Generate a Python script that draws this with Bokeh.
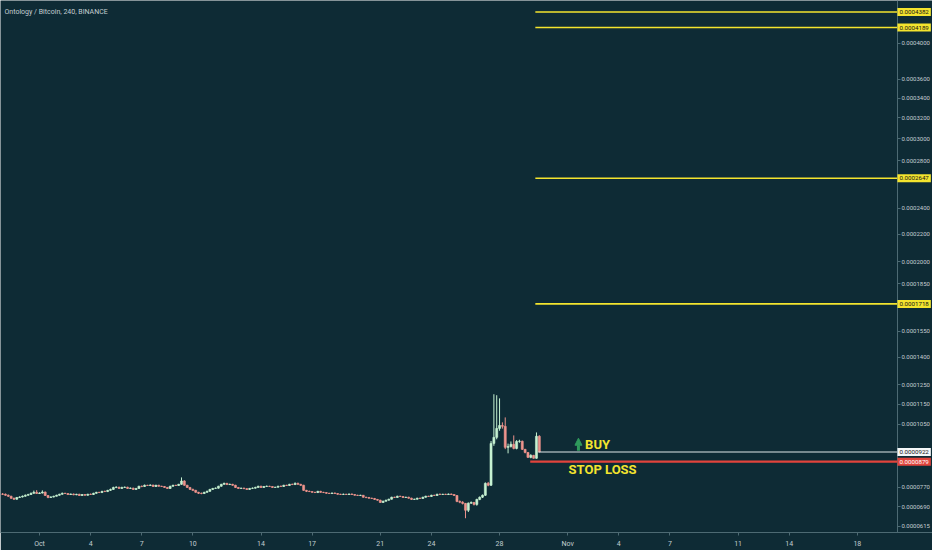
import numpy as np
import pandas as pd
from bokeh.plotting import figure
from bokeh.models import (Range1d, FixedTicker, CustomJSTickFormatter, Label,
                          ColumnDataSource, Arrow, NormalHead)
from bokeh.embed import file_html
from bokeh.resources import INLINE

# ---------------- data (prices in satoshi, 1e-8 BTC) ----------------
first_candle = "2019-09-28 20:00"   # 4h candles
first_open_sat = 7420
close_sat = [
    7410, 7370, 7330, 7250, 7210, 7280, 7300, 7330, 7370, 7400,
    7450, 7490, 7440, 7460, 7500, 7360, 7280, 7300, 7330, 7370,
    7410, 7450, 7440, 7400, 7420, 7390, 7410, 7360, 7400, 7370,
    7410, 7400, 7450, 7490, 7480, 7530, 7520, 7570, 7610, 7690,
    7700, 7650, 7690, 7700, 7650, 7660, 7610, 7650, 7740, 7730,
    7780, 7770, 7790, 7730, 7780, 7740, 7730, 7690, 7650, 7740,
    7780, 7770, 7820, 7960, 7780, 7690, 7610, 7570, 7490, 7450,
    7440, 7490, 7530, 7610, 7650, 7660, 7740, 7820, 7860, 7810,
    7820, 7780, 7690, 7650, 7660, 7640, 7610, 7650, 7660, 7690,
    7740, 7690, 7730, 7740, 7730, 7690, 7700, 7740, 7730, 7780,
    7770, 7820, 7810, 7860, 7820, 7780, 7570, 7530, 7520, 7490,
    7480, 7530, 7490, 7480, 7450, 7440, 7460, 7440, 7410, 7400,
    7410, 7400, 7420, 7400, 7370, 7360, 7370, 7290, 7280, 7250,
    7240, 7200, 7170, 7080, 7130, 7170, 7210, 7290, 7280, 7330,
    7320, 7280, 7290, 7250, 7200, 7210, 7250, 7240, 7290, 7330,
    7320, 7370, 7360, 7410, 7400, 7410, 7400, 7420, 7400, 7360,
    7120, 7090, 7040, 6770, 7050, 7080, 7000, 7200, 7290, 7370,
    7860, 7780, 9610, 9890, 10310, 10450, 10410, 9430, 9470, 9570,
    9380, 9700, 9710, 9340, 9200, 8980, 9070, 8940, 9940, 9220,
]
high_sat = [
    7460, 7440, 7400, 7350, 7270, 7300, 7330, 7360, 7400, 7430,
    7480, 7560, 7580, 7490, 7570, 7520, 7380, 7330, 7350, 7390,
    7430, 7480, 7470, 7460, 7440, 7440, 7430, 7430, 7420, 7410,
    7430, 7440, 7470, 7510, 7510, 7550, 7560, 7590, 7640, 7720,
    7740, 7720, 7720, 7730, 7720, 7690, 7680, 7670, 7760, 7770,
    7810, 7800, 7820, 7800, 7800, 7800, 7760, 7750, 7710, 7760,
    7800, 7800, 7840, 8110, 7990, 7800, 7710, 7640, 7590, 7510,
    7480, 7510, 7560, 7630, 7670, 7690, 7760, 7840, 7890, 7880,
    7850, 7840, 7800, 7710, 7680, 7680, 7660, 7670, 7690, 7720,
    7760, 7760, 7750, 7770, 7760, 7740, 7720, 7760, 7770, 7800,
    7800, 7840, 7850, 7900, 7890, 7840, 7800, 7590, 7560, 7540,
    7510, 7550, 7550, 7510, 7500, 7470, 7480, 7480, 7460, 7430,
    7440, 7430, 7440, 7440, 7420, 7390, 7390, 7380, 7310, 7300,
    7270, 7260, 7220, 7190, 7150, 7190, 7230, 7310, 7310, 7350,
    7350, 7340, 7310, 7310, 7270, 7230, 7270, 7270, 7310, 7350,
    7350, 7390, 7390, 7430, 7440, 7430, 7430, 7440, 7440, 7420,
    7380, 7160, 7130, 7060, 7080, 7120, 7100, 7230, 7320, 7400,
    7900, 7920, 9720, 12000, 11950, 11790, 10600, 10840, 9600, 9700,
    9980, 9760, 9780, 9740, 9360, 9220, 9120, 9090, 10120, 9990,
]
low_sat = [
    7380, 7350, 7300, 7220, 7180, 7190, 7260, 7280, 7310, 7350,
    7380, 7430, 7420, 7420, 7440, 7340, 7250, 7260, 7280, 7320,
    7350, 7390, 7420, 7380, 7380, 7370, 7370, 7340, 7340, 7350,
    7350, 7380, 7380, 7430, 7460, 7460, 7500, 7500, 7550, 7590,
    7660, 7630, 7630, 7670, 7630, 7630, 7590, 7590, 7630, 7700,
    7710, 7750, 7750, 7710, 7710, 7720, 7710, 7670, 7630, 7630,
    7720, 7750, 7750, 7800, 7760, 7670, 7590, 7540, 7470, 7420,
    7410, 7420, 7470, 7510, 7590, 7630, 7640, 7720, 7800, 7790,
    7790, 7760, 7670, 7630, 7630, 7620, 7590, 7590, 7630, 7640,
    7670, 7670, 7670, 7710, 7710, 7670, 7670, 7680, 7710, 7710,
    7750, 7750, 7790, 7790, 7800, 7750, 7550, 7500, 7500, 7470,
    7460, 7460, 7470, 7460, 7430, 7420, 7420, 7420, 7390, 7380,
    7380, 7380, 7380, 7380, 7350, 7340, 7340, 7270, 7250, 7230,
    7220, 7180, 7150, 7060, 7060, 7110, 7150, 7190, 7260, 7260,
    7300, 7260, 7260, 7230, 7180, 7180, 7190, 7220, 7220, 7270,
    7300, 7300, 7340, 7340, 7380, 7380, 7380, 7380, 7380, 7340,
    7090, 7050, 7000, 6460, 6700, 7020, 6960, 6950, 7170, 7260,
    7340, 7740, 7750, 9500, 9800, 10200, 10300, 9350, 9160, 9420,
    9340, 9340, 9640, 9310, 9160, 8950, 8940, 8920, 8920, 9200,
]

target_levels = [0.0004382, 0.0004189, 0.0002647, 0.0001718]
buy_price = 0.0000922
stop_price = 0.0000879

y_tick_values = [0.0004, 0.00036, 0.00034, 0.00032, 0.0003, 0.00028, 0.00024,
                 0.00022, 0.0002, 0.000185, 0.000155, 0.00014, 0.000125,
                 0.000115, 0.000105, 0.000077, 0.000069, 0.0000615]
x_tick_days = [0, 3, 6, 9, 13, 16, 20, 23, 27, 31, 34, 37, 41, 44, 48]
x_tick_labels = ["Oct", "4", "7", "10", "14", "17", "21", "24", "28",
                 "Nov", "4", "7", "11", "14", "18"]

title_text = "Ontology / Bitcoin, 240, BINANCE"

# ---------------- styling ----------------
BG = "#0e2b35"
AXIS = "#4d6a73"
TXT = "#c3ced2"
UP = "#c6f2d2"
DOWN = "#ee938d"
YELLOW = "#f3e42e"
RED = "#e2443c"
WHITE = "#dfe8ea"
GREEN = "#2f9a5c"
FONT = "Roboto"

OFFSET = 0.0001   # price-scale transform used by the reference's axis


def ty(v):
    return np.log(np.asarray(v, dtype=float) + OFFSET)


times = pd.date_range(first_candle, periods=len(close_sat), freq="4h")
day = np.asarray((times - pd.Timestamp("2019-10-01")) / pd.Timedelta(days=1))

c = np.array(close_sat) * 1e-8
o = np.array([first_open_sat] + close_sat[:-1]) * 1e-8
h = np.array(high_sat) * 1e-8
l = np.array(low_sat) * 1e-8
up = c >= o

src = ColumnDataSource(dict(
    x=day, top=ty(np.maximum(o, c)), bottom=ty(np.minimum(o, c)),
    hi=ty(h), lo=ty(l), color=np.where(up, UP, DOWN)))

X0, X1 = -2.29, 52.41      # full visible time span (incl. price-scale strip)
AXIS_X = 50.35             # where the price scale sits
FW, FH = 932, 532

p = figure(frame_width=FW, frame_height=FH, output_backend="svg",
           toolbar_location=None,
           x_range=Range1d(X0, X1),
           y_range=Range1d(float(ty(0.0000592)), float(ty(0.0004528))),
           y_axis_location="right",
           min_border_left=0, min_border_top=0, min_border_right=0,
           min_border_bottom=18)
p.background_fill_color = BG
p.border_fill_color = BG
p.outline_line_color = None
p.grid.visible = False

p.segment("x", "hi", "x", "lo", source=src, color="color", line_width=1)
p.vbar(x="x", top="top", bottom="bottom", width=0.12, source=src,
       fill_color="color", line_color="color", line_width=0.6)

# level lines
for lv in target_levels:
    p.segment(x0=29.1, y0=float(ty(lv)), x1=AXIS_X, y1=float(ty(lv)),
              line_color=YELLOW, line_width=1.6)
p.segment(x0=28.8, y0=float(ty(stop_price)), x1=AXIS_X, y1=float(ty(stop_price)),
          line_color=RED, line_width=2.2)
p.segment(x0=29.28, y0=float(ty(buy_price)), x1=AXIS_X, y1=float(ty(buy_price)),
          line_color=WHITE, line_width=1.2)

# axis styling
p.yaxis.fixed_location = AXIS_X
p.yaxis.ticker = FixedTicker(ticks=[float(t) for t in ty(y_tick_values)])
p.yaxis.formatter = CustomJSTickFormatter(
    args=dict(off=OFFSET), code="return (Math.exp(tick) - off).toFixed(7);")
p.xaxis.ticker = FixedTicker(ticks=x_tick_days)
p.xaxis.formatter = CustomJSTickFormatter(
    args=dict(pos=x_tick_days, lab=x_tick_labels),
    code="const i = pos.indexOf(Math.round(tick)); return i >= 0 ? lab[i] : '';")
for ax in (p.xaxis, p.yaxis):
    ax.axis_line_color = AXIS
    ax.major_tick_line_color = AXIS
    ax.minor_tick_line_color = None
    ax.major_tick_in = 0
    ax.major_label_text_color = TXT
    ax.major_label_text_font = FONT
p.yaxis.major_tick_out = 3
p.yaxis.major_label_standoff = 1
p.yaxis.major_label_text_font_size = "6px"
p.xaxis.major_tick_out = 3
p.xaxis.major_label_standoff = 4
p.xaxis.major_label_text_font_size = "7px"

# price labels on the scale
def price_tag(val, fill, txt):
    p.add_layout(Label(x=AXIS_X, y=float(ty(val)), x_offset=0, text=f"{val:.7f}",
                       text_font=FONT, text_font_size="6.2px",
                       text_baseline="middle", text_align="left",
                       text_color=txt, background_fill_color=fill,
                       padding=2))

for lv in target_levels:
    price_tag(lv, YELLOW, "#151515")
price_tag(buy_price, "#f4f7f8", "#151515")
price_tag(stop_price, RED, "#ffffff")

# annotations
p.add_layout(Arrow(end=NormalHead(size=7, fill_color=GREEN, line_color=GREEN),
                   x_start=31.63, y_start=float(ty(0.0000928)),
                   x_end=31.63, y_end=float(ty(0.0000985)),
                   line_color=GREEN, line_width=3))
p.add_layout(Label(x=32.02, y=float(ty(0.0000957)), text="BUY",
                   text_font=FONT, text_font_style="bold",
                   text_font_size="13px", text_color=YELLOW,
                   text_baseline="middle"))
p.add_layout(Label(x=31.05, y=float(ty(0.0000845)), text="STOP LOSS",
                   text_font=FONT, text_font_style="bold",
                   text_font_size="13px", text_color=YELLOW,
                   text_baseline="middle"))
p.add_layout(Label(x=4, y=FH - 11, x_units="screen", y_units="screen",
                   text=title_text, text_font=FONT, text_font_size="7px",
                   text_color=TXT, text_baseline="middle"))

open("out.html", "w").write(file_html(p, INLINE))
